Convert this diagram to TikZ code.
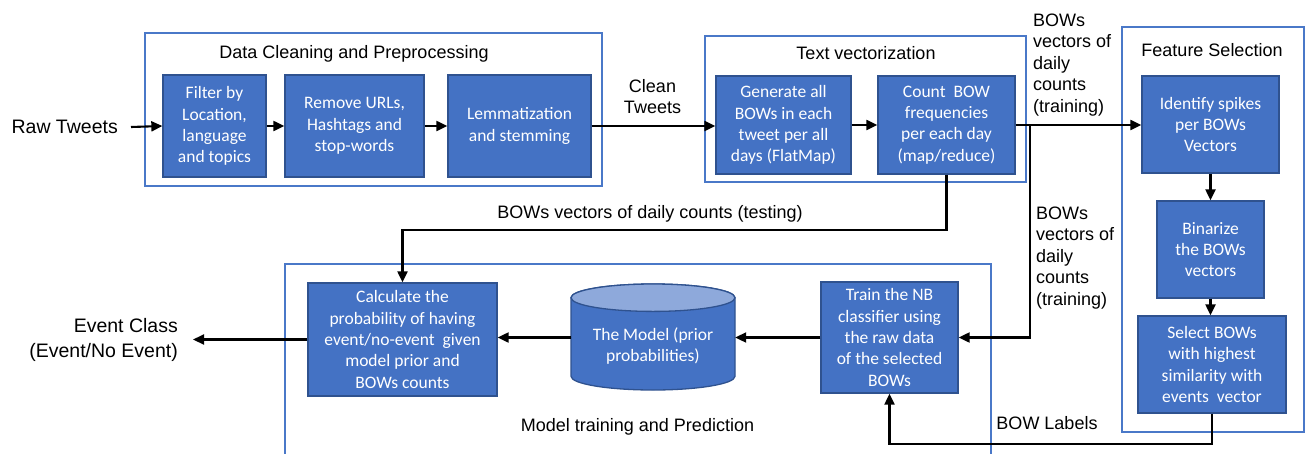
\documentclass[tikz,border=0pt]{standalone}
\usepackage{fontspec}
\setmainfont{Liberation Sans}
\newfontfamily\boxfont{Carlito}
\usetikzlibrary{arrows.meta}
\definecolor{procblue}{HTML}{4472C4}
\definecolor{procedge}{HTML}{2F528F}
\definecolor{cyltop}{HTML}{8EA9DB}
\definecolor{framblue}{HTML}{4A78C8}
\tikzset{
  proc/.style={draw=procedge, line width=1.3pt, fill=procblue, text=white,
    font=\boxfont\fontsize{17.5}{21.3}\selectfont, align=center, inner sep=2pt},
  group/.style={draw=framblue, line width=1.8pt},
  lbl/.style={font=\fontsize{18}{21.5}\selectfont, text=black, inner sep=0pt},
  biglbl/.style={font=\fontsize{19.5}{24.5}\selectfont, text=black, inner sep=0pt},
  arr/.style={line width=2.1pt, -{Triangle[length=11pt,width=10pt]}}
}
\begin{document}
\begin{tikzpicture}[x=1pt,y=-1pt]
\useasboundingbox (0,0) rectangle (1306,453);

% group frames
\draw[group] (145,33) rectangle (602,186);
\draw[group] (705,36) rectangle (1026,182);
\draw[group] (1122,27) rectangle (1304,432);
\draw[group] (285,456) -- (285,264) -- (991,264) -- (991,456);

% group titles
\node[lbl] (tdc) at (354,54) {Data Cleaning and Preprocessing};
\node[lbl] (ttv) at (866,53) {Text vectorization};
\node[lbl] (tfs) at (1212,50) {Feature Selection};
\node[lbl] (tmt) at (637.5,427) {Model training and Prediction};

% preprocessing
\node[proc, minimum width=103pt, minimum height=102pt] (b1) at (214.5,126) {Filter by\\Location,\\language\\and topics};
\node[proc, minimum width=139pt, minimum height=102pt] (b2) at (354.5,126) {Remove URLs,\\Hashtags and\\stop-words};
\node[proc, minimum width=143pt, minimum height=102pt] (b3) at (519.5,126) {Lemmatization\\and stemming};

% vectorization
\node[proc, minimum width=135pt, minimum height=98pt] (t1) at (783.5,125) {Generate all\\BOWs in each\\tweet per all\\days (FlatMap)};
\node[proc, minimum width=137pt, minimum height=98pt] (t2) at (946.5,125) {Count~~BOW\\frequencies\\per each day\\(map/reduce)};

% feature selection
\node[proc, minimum width=137pt, minimum height=97pt] (f1) at (1210.5,124.5) {Identify spikes\\per BOWs\\Vectors};
\node[proc, minimum width=107pt, minimum height=97pt] (f2) at (1210.5,249.5) {Binarize\\the BOWs\\vectors};
\node[proc, minimum width=148pt, minimum height=97pt] (f3) at (1212,364.5) {Select BOWs\\with highest\\similarity with\\events~~vector};

% model training and prediction
\node[proc, minimum width=189pt, minimum height=113pt] (calc) at (402.5,339.5) {Calculate the\\probability of having\\event/no-event~~given\\model prior and\\BOWs counts};
\node[proc, minimum width=137pt, minimum height=111pt] (train) at (889.5,337.5) {Train the NB\\classifier using\\the raw data\\of the selected\\BOWs};

% model store (cylinder)
\node[minimum width=164pt, minimum height=106pt, inner sep=0pt] (cyl) at (653,338) {};
\fill[procblue, draw=procedge, line width=1.3pt]
  (571,297.7) -- (571,376.3) arc[start angle=180, end angle=360, x radius=82, y radius=-13.7] -- (735,297.7)
  arc[start angle=0, end angle=180, x radius=82, y radius=-13.7] -- cycle;
\filldraw[fill=cyltop, draw=procedge, line width=1.3pt] (653,297.7) ellipse[x radius=82, y radius=13.7];
\node[text=white, font=\boxfont\fontsize{17.5}{21.3}\selectfont, align=center] (cyltext) at (653,346) {The Model (prior\\probabilities)};

% outside labels
\node[biglbl, anchor=east] (raw) at (118,127) {Raw Tweets};
\node[lbl, align=center] (clean) at (652.5,96.5) {Clean\\Tweets};
\node[lbl, align=left, anchor=west] (trainlblA) at (1033,65) {BOWs\\vectors of\\daily\\counts\\(training)};
\node[lbl, align=left, anchor=west] (trainlblB) at (1036,258) {BOWs\\vectors of\\daily\\counts\\(training)};
\node[lbl] (testlbl) at (650,214) {BOWs vectors of daily counts (testing)};
\node[lbl] (bowlbl) at (1047,423) {BOW Labels};
\node[biglbl, align=right, anchor=east] (evclass) at (178,340) {Event Class\\(Event/No Event)};

% connectors
\draw[arr] (raw.east) ++(13,0) -- (b1.west);
\draw[arr] (b1.east) -- (b2.west);
\draw[arr] (b2.east) -- (b3.west);
\draw[arr] (b3.east) -- (b3.east -| t1.west);
\draw[arr] (t1.east) -- (t2.west);
\draw[arr] (t2.east) -- (t2.east -| f1.west);
\coordinate (split) at (1030,125);
\draw[arr] (split) |- (train.east);
\draw[arr] (f1.south) -- (f2.north);
\draw[arr] (f2.south) -- (f2.south |- f3.north);
\draw[arr] (t2.south) -- ++(0,55) -| (calc.north);
\draw[arr] (f3.south) -- ++(0,30) -| (train.south);
\draw[arr] (train.west) -- (cyl.east |- train.west);
\draw[arr] (cyl.west |- train.west) -- (calc.east |- train.west);
\coordinate (evend) at (193,339.5);
\draw[arr] (calc.west) -- (evend);
\end{tikzpicture}
\end{document}
